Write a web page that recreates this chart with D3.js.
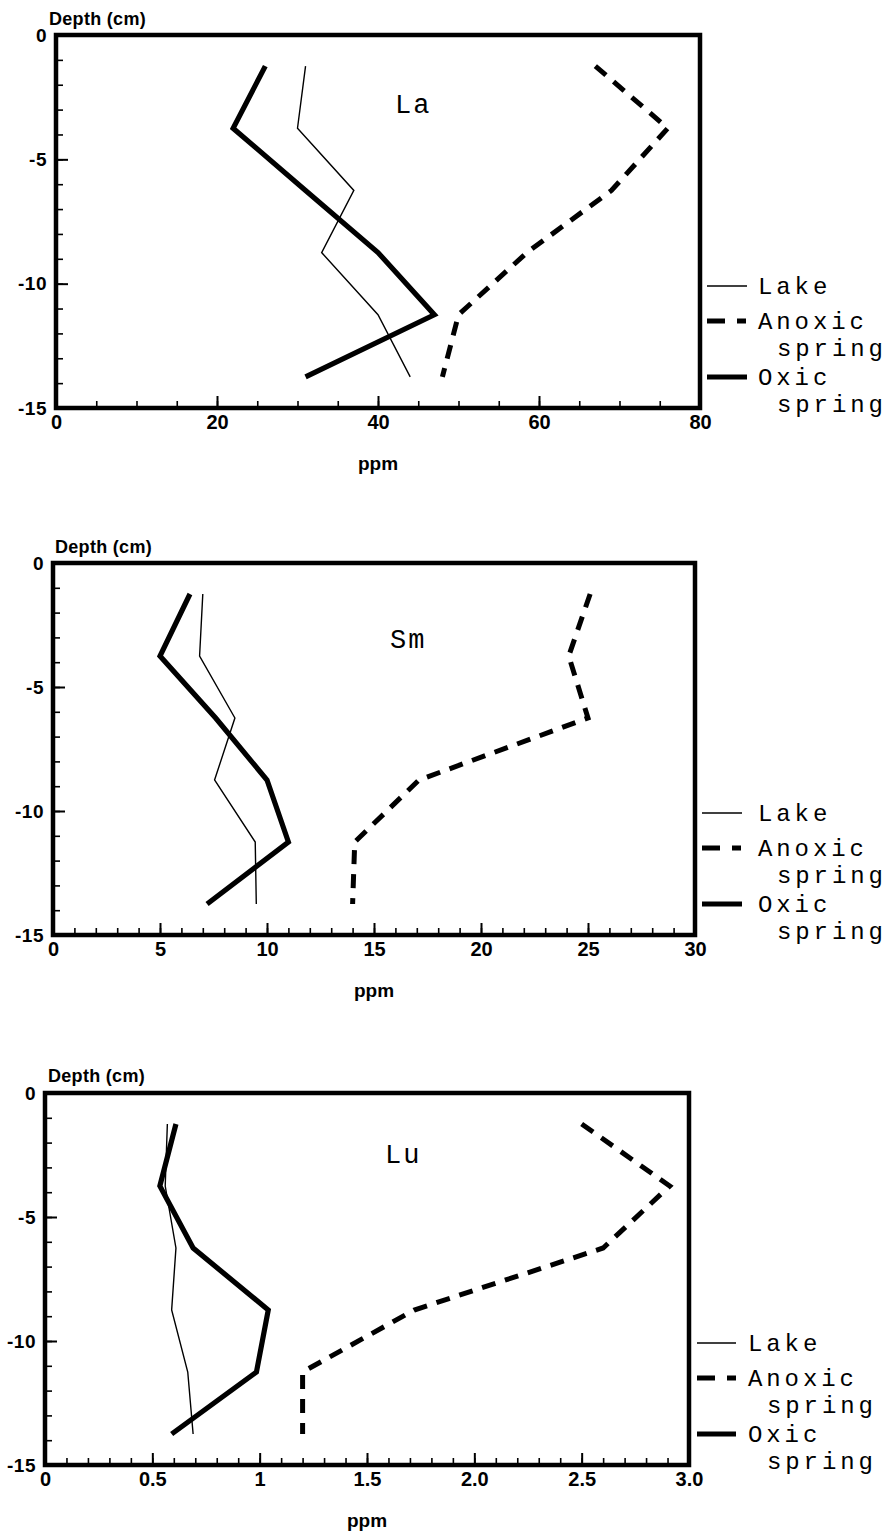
<!DOCTYPE html>
<html>
<head>
<meta charset="utf-8">
<script src="https://cdn.jsdelivr.net/npm/d3@7"></script>
<style>
  html, body { margin: 0; padding: 0; background: #fff; }
  svg { display: block; }
  .tick text { font-family: "Liberation Sans", Arial, sans-serif; font-weight: bold; fill: #000; }
  .title { font-family: "Liberation Sans", Arial, sans-serif; font-weight: bold; fill: #000; }
  .mono { font-family: "Liberation Mono", "Courier New", monospace; fill: #000; }
</style>
</head>
<body>
<svg id="chart" width="896" height="1533"></svg>
<script>
// ---------------- DATA ----------------
const depths = [-1.25, -3.75, -6.25, -8.75, -11.25, -13.75];

const laLake   = [31, 30, 37, 33, 40, 44];
const laAnoxic = [67, 76, 69, 58.5, 50, 48];
const laOxic   = [26, 22, 31, 40, 47, 31];

const smLake   = [7.0, 6.85, 8.5, 7.55, 9.45, 9.5];
const smAnoxic = [25.1, 24.1, 25.0, 17.1, 14.1, 14.0];
const smOxic   = [6.4, 5.0, 7.6, 10.0, 11.0, 7.2];

const luLake   = [0.57, 0.56, 0.61, 0.59, 0.665, 0.69];
const luAnoxic = [2.5, 2.91, 2.6, 1.72, 1.2, 1.2];
const luOxic   = [0.61, 0.535, 0.69, 1.04, 0.985, 0.59];

const yTickValues = [0, -5, -10, -15];
const yTickLabels = ["0", "-5", "-10", "-15"];

const laXTicks = [0, 20, 40, 60, 80];
const laXLabels = ["0", "20", "40", "60", "80"];
const smXTicks = [0, 5, 10, 15, 20, 25, 30];
const smXLabels = ["0", "5", "10", "15", "20", "25", "30"];
const luXTicks = [0, 0.5, 1, 1.5, 2, 2.5, 3];
const luXLabels = ["0", "0.5", "1", "1.5", "2.0", "2.5", "3.0"];

const seriesNames = ["Lake", "Anoxic", "Oxic"];
const legendLine1 = ["Lake", "Anoxic", "Oxic"];
const legendLine2 = ["", "spring", "spring"];
const elementNames = ["La", "Sm", "Lu"];
const xTitle = "ppm";
const yTitle = "Depth (cm)";

// ---------------- LAYOUT / STYLE ----------------
const styles = {
  Lake:   { width: 1.4, dash: null },
  Anoxic: { width: 5,   dash: "14,10" },
  Oxic:   { width: 5.2, dash: null }
};

const panels = [
  { name: elementNames[0], series: [laLake, laAnoxic, laOxic], xMax: 80, minorStep: 5,
    xTicks: laXTicks, xLabels: laXLabels,
    left: 56, right: 700, top: 35, bottom: 408, labelDy: 78, labelX: 395,
    titleX: 49, titleY: 25, legLine: [707, 747], legText: 758 },
  { name: elementNames[1], series: [smLake, smAnoxic, smOxic], xMax: 30, minorStep: 1,
    xTicks: smXTicks, xLabels: smXLabels,
    left: 53, right: 695, top: 563, bottom: 935, labelDy: 85, labelX: 390,
    titleX: 55, titleY: 553, legLine: [702, 742], legText: 758 },
  { name: elementNames[2], series: [luLake, luAnoxic, luOxic], xMax: 3, minorStep: 0.1,
    xTicks: luXTicks, xLabels: luXLabels,
    left: 45, right: 689, top: 1093, bottom: 1465, labelDy: 70, labelX: 385,
    titleX: 48, titleY: 1082, legLine: [697, 736], legText: 748 }
];

const svg = d3.select("#chart");

panels.forEach(p => {
  const g = svg.append("g");
  const x = d3.scaleLinear().domain([0, p.xMax]).range([p.left, p.right]);
  const y = d3.scaleLinear().domain([0, -15]).range([p.top, p.bottom]);

  // minor ticks x
  const nMinor = Math.round(p.xMax / p.minorStep);
  const xMinor = d3.range(0, nMinor + 1).map(i => +(i * p.minorStep).toFixed(4));
  g.append("g")
    .attr("transform", `translate(0,${p.bottom})`)
    .call(d3.axisBottom(x).tickValues(xMinor).tickSize(-7).tickFormat(""))
    .call(a => a.select(".domain").remove())
    .call(a => a.selectAll("line").attr("stroke", "#000").attr("stroke-width", 1.6));
  // major ticks x with labels
  g.append("g")
    .attr("transform", `translate(0,${p.bottom})`)
    .call(d3.axisBottom(x).tickValues(p.xTicks).tickSize(-12).tickPadding(7)
      .tickFormat((d, i) => p.xLabels[i]))
    .call(a => a.select(".domain").remove())
    .call(a => a.selectAll("line").attr("stroke", "#000").attr("stroke-width", 2))
    .call(a => a.selectAll("text").style("font-size", "20px"));

  // minor ticks y
  const yMinor = d3.range(0, 16).map(i => -i);
  g.append("g")
    .attr("transform", `translate(${p.left},0)`)
    .call(d3.axisLeft(y).tickValues(yMinor).tickSize(-7).tickFormat(""))
    .call(a => a.select(".domain").remove())
    .call(a => a.selectAll("line").attr("stroke", "#000").attr("stroke-width", 1.6));
  // major y with labels
  g.append("g")
    .attr("transform", `translate(${p.left},0)`)
    .call(d3.axisLeft(y).tickValues(yTickValues).tickSize(-12).tickPadding(9)
      .tickFormat((d, i) => yTickLabels[i]))
    .call(a => a.select(".domain").remove())
    .call(a => a.selectAll("line").attr("stroke", "#000").attr("stroke-width", 2))
    .call(a => a.selectAll("text").style("font-size", "19px").style("letter-spacing", "0.5px"));

  // frame
  g.append("rect")
    .attr("x", p.left).attr("y", p.top)
    .attr("width", p.right - p.left).attr("height", p.bottom - p.top)
    .attr("fill", "none").attr("stroke", "#000").attr("stroke-width", 4.5);

  // series lines
  const line = d3.line().x(d => x(d[0])).y(d => y(d[1]));
  seriesNames.forEach((s, si) => {
    const vals = p.series[si].map((v, i) => [v, depths[i]]);
    g.append("path")
      .attr("d", line(vals))
      .attr("fill", "none")
      .attr("stroke", "#000")
      .attr("stroke-width", styles[s].width)
      .attr("stroke-dasharray", styles[s].dash)
      .attr("stroke-linejoin", "miter");
  });

  // element label
  g.append("text").attr("class", "mono")
    .attr("x", p.labelX).attr("y", p.top + p.labelDy)
    .style("font-size", "27px").style("letter-spacing", "2px")
    .text(p.name);

  // axis titles
  g.append("text").attr("class", "title")
    .attr("x", p.titleX).attr("y", p.titleY)
    .style("font-size", "18px").style("letter-spacing", "0.3px")
    .text(yTitle);
  g.append("text").attr("class", "title")
    .attr("x", (p.left + p.right) / 2).attr("y", p.bottom + 62)
    .attr("text-anchor", "middle")
    .style("font-size", "19px")
    .text(xTitle);

  // legend
  const legY = [p.bottom - 122, p.bottom - 87, p.bottom - 31];
  seriesNames.forEach((s, si) => {
    g.append("line")
      .attr("x1", p.legLine[0]).attr("x2", p.legLine[1])
      .attr("y1", legY[si]).attr("y2", legY[si])
      .attr("stroke", "#000")
      .attr("stroke-width", styles[s].width)
      .attr("stroke-dasharray", s === "Anoxic" ? "18,12,9,100" : null);
    g.append("text").attr("class", "mono")
      .attr("x", p.legText).attr("y", legY[si] + 8)
      .style("font-size", "24px").style("letter-spacing", "3.9px")
      .text(legendLine1[si]);
    if (legendLine2[si]) {
      g.append("text").attr("class", "mono")
        .attr("x", p.legText + 19).attr("y", legY[si] + 35)
        .style("font-size", "24px").style("letter-spacing", "3.9px")
        .text(legendLine2[si]);
    }
  });
});
</script>
</body>
</html>
